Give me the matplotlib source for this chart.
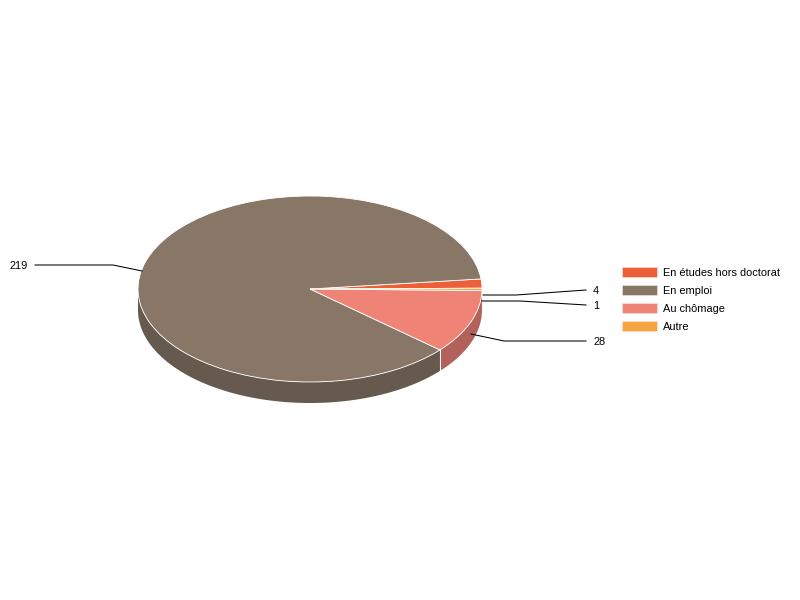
import numpy as np
import matplotlib
matplotlib.use('Agg')
import matplotlib.pyplot as plt
from matplotlib.patches import Patch

plt.rcParams['font.family'] = ['Liberation Sans', 'DejaVu Sans']

# -----------------------------
# Data
# -----------------------------
labels = ['En études hors doctorat', 'En emploi', 'Au chômage', 'Autre']
values = [4, 219, 28, 1]
colors = ['#EC5F39', '#887667', '#EF8476', '#F6A341']
side_colors = ['#A84429', '#665A4E', '#B2625A', '#B87A30']

# leader lines in pixels, (x, y) from the slice to the text
leaders = [
    [(483, 295), (516, 295), (586, 290)],
    [(142, 271), (113, 265), (35, 265)],
    [(471, 334), (504, 341), (586, 341)],
    [(482, 301), (520, 301), (586, 305)],
]
text_pos = [(593, 291), (28, 266), (593, 342), (593, 306)]
text_ha = ['left', 'right', 'left', 'left']

start_angle = 0.5
depth = 0.226  # in units of the vertical radius

fig = plt.figure(figsize=(8, 6), dpi=100)

# overlay in pixel coordinates for the leaders and the legend
ax_px = fig.add_axes([0, 0, 1, 1], zorder=3)
ax_px.set_xlim(0, 800)
ax_px.set_ylim(600, 0)
ax_px.axis('off')

# pie axes, the unit circle gets squashed to an ellipse
ax = fig.add_axes([138 / 800, (600 - 289 - 93) / 600, 344 / 800, 186 / 600], zorder=2)

# ---- side wall ----
edges = start_angle + np.concatenate([[0], np.cumsum(values)]) * 360 / sum(values)
for i in range(len(values)):
    a0, a1 = edges[i], edges[i + 1]
    for lo, hi in [(180, 360), (540, 720)]:
        t0, t1 = max(a0, lo), min(a1, hi)
        if t1 <= t0:
            continue
        t = np.radians(np.linspace(t0, t1, 200))
        xs = np.concatenate([np.cos(t), np.cos(t)[::-1]])
        ys = np.concatenate([np.sin(t), np.sin(t)[::-1] - depth])
        ax.fill(xs, ys, color=side_colors[i], lw=0, clip_on=False, zorder=1)

# white seam where the two big slices meet on the wall
seam = np.radians(edges[2])
ax.plot([np.cos(seam)] * 2, [np.sin(seam), np.sin(seam) - depth], color='white', lw=0.7,
        clip_on=False, zorder=1.5)

# ---- top of the pie ----
wedges, _ = ax.pie(values, colors=colors, startangle=start_angle, counterclock=True, radius=1,
                   wedgeprops={'edgecolor': 'white', 'linewidth': 0.6, 'clip_on': False})
ax.set_aspect('auto')
ax.set_xlim(-1, 1)
ax.set_ylim(-1, 1)
ax.axis('off')

# ---- leaders and value labels ----
for line, val, pos, ha in zip(leaders, values, text_pos, text_ha):
    ax_px.plot([p[0] for p in line], [p[1] for p in line], color='black', lw=0.75)
    ax_px.text(pos[0], pos[1], str(val), ha=ha, va='center', fontsize=7.9, color='black')

# ---- legend ----
handles = [Patch(facecolor=c, edgecolor='#F5E6DC', lw=0.4, label=l) for c, l in zip(colors, labels)]
ax_px.legend(handles=handles, loc='upper left', bbox_to_anchor=(622 / 800, 1 - 267 / 600),
             frameon=False, fontsize=7.9, borderpad=0, borderaxespad=0, handlelength=3.2,
             handleheight=1.09, handletextpad=0.55, labelspacing=0.64)

fig.savefig('out.png', dpi=100)
